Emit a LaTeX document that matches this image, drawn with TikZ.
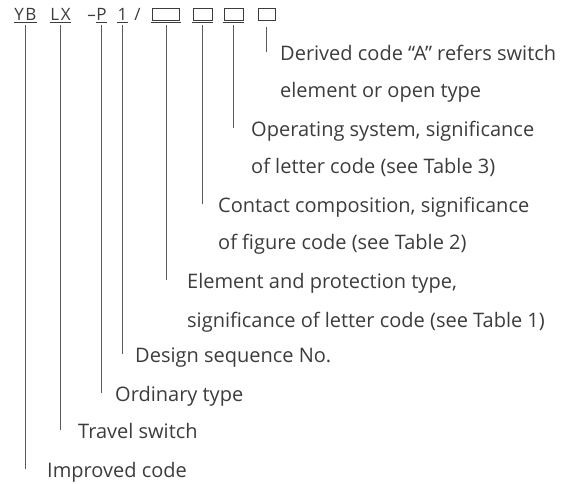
\documentclass[tikz,border=0pt]{standalone}
\usepackage{fontspec}
\setmainfont{Open Sans}
\definecolor{textgray}{HTML}{3C3C3C}
\definecolor{linegray}{HTML}{5A5A5A}
\tikzset{
  desc/.style={anchor=base west, inner sep=0pt, text height=16pt, text depth=0pt,
    text=textgray, font=\fontsize{20}{24}\selectfont},
  codepart/.style={anchor=base, inner sep=0pt, text=textgray,
    font=\fontsize{17}{20}\selectfont},
  codebox/.style={draw=textgray, line width=0.8pt, inner sep=0pt, minimum height=12.5pt},
  leader/.style={draw=linegray, line width=0.6pt},
  uline/.style={draw=textgray, line width=1pt}
}
\begin{document}
\begin{tikzpicture}[x=1pt,y=-1pt]
        \useasboundingbox (0,0) rectangle (571,483);
        % type code
        \node[codepart] (yb) at (25.5,20.7) {Y\kern1.5pt B};
        \node[codepart] (lx) at (60.5,20.7) {L\kern1.5pt X};
        \node[codepart] (dash) at (91.5,20.7) {–};
        \node[codepart] (p) at (101.5,20.7) {P};
        \node[codepart] (one) at (122.5,20.7) {1};
        \node[codepart] (slash) at (137.5,20.7) {/};
        \node[codebox, minimum width=27pt] (boxa) at (166,14.5) {};
        \node[codebox, minimum width=19pt] (boxb) at (202.5,14.5) {};
        \node[codebox, minimum width=19pt] (boxc) at (233.5,14.5) {};
        \node[codebox, minimum width=17pt] (boxd) at (266.5,14.5) {};
        % underlines
        \foreach \n in {yb,lx,p,one}
          \draw[uline] ([yshift=-1.6pt]\n.south west) -- ([yshift=-1.6pt]\n.south east);
        \foreach \n in {boxa,boxb,boxc}
          \draw[uline] ([xshift=-1pt,yshift=-1.4pt]\n.south west) -- ([xshift=1pt,yshift=-1.4pt]\n.south east);
        % descriptions
        \node[desc] (der) at (280,60) {Derived code “A” refers switch};
        \node[desc] (der2) at (280,97) {element or open type};
        \node[desc] (ope) at (251,136) {Operating system, significance};
        \node[desc] (ope2) at (251,173) {of letter code (see Table 3)};
        \node[desc] (con) at (218,212) {Contact composition, significance};
        \node[desc] (con2) at (218,249) {of figure code (see Table 2)};
        \node[desc] (ele) at (187,288) {Element and protection type,};
        \node[desc] (ele2) at (187,327) {significance of letter code (see Table 1)};
        \node[desc] (des) at (135,362) {Design sequence No.};
        \node[desc] (ord) at (115,401) {Ordinary type};
        \node[desc] (tra) at (78,438) {Travel switch};
        \node[desc] (imp) at (47,477) {Improved code};
        % leaders
        \draw[leader] ([yshift=-4pt]yb.south) -- (yb.south |- imp.west);
        \draw[leader] ([yshift=-4pt]lx.south) -- (lx.south |- tra.west);
        \draw[leader] ([yshift=-4pt]p.south) -- (p.south |- ord.west);
        \draw[leader] ([yshift=-4pt]one.south) -- (one.south |- des.west);
        \draw[leader] ([yshift=-4pt]boxa.south) -- (boxa.south |- ele.west);
        \draw[leader] ([yshift=-4pt]boxb.south) -- (boxb.south |- con.west);
        \draw[leader] ([yshift=-4pt]boxc.south) -- (boxc.south |- ope.west);
        \draw[leader] ([yshift=-6pt]boxd.south) -- (boxd.south |- der.west);
    \end{tikzpicture}
\end{document}
